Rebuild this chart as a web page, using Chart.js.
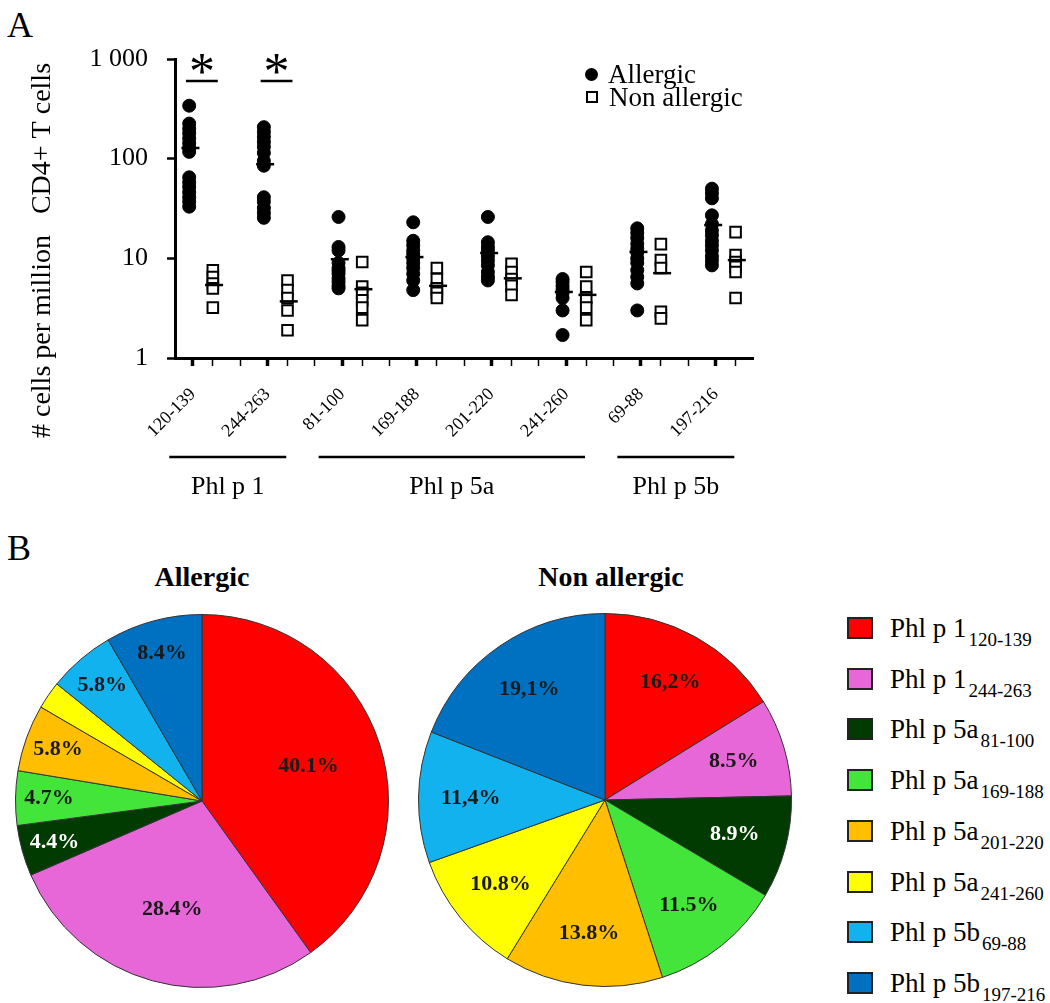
<!DOCTYPE html>
<html>
<head>
<meta charset="utf-8">
<script src="https://cdn.jsdelivr.net/npm/chart.js@4.4.1/dist/chart.umd.min.js"></script>
<style>
  html, body { margin: 0; padding: 0; background: #fff; }
  body { position: relative; width: 1050px; height: 1003px; overflow: hidden;
         font-family: 'Liberation Serif', 'DejaVu Serif', serif; color: #000; }
  .box { position: absolute; }
  .panel { position: absolute; left: 7px; font-size: 36px; line-height: 36px; }
  .pieTitle { position: absolute; width: 300px; text-align: center; font-weight: bold;
              font-size: 28px; line-height: 28px; }
  .row { position: absolute; display: flex; align-items: center; height: 24px;
         font-size: 27px; line-height: 24px; white-space: nowrap; }
  .dot { width: 13px; height: 13px; border-radius: 50%; background: #000; margin-right: 10px; }
  .sq { width: 12px; height: 12px; box-sizing: border-box; border: 2px solid #000; background: #fff; margin-right: 11px; margin-left: 1px; }
  .swatch { width: 26px; height: 22px; box-sizing: border-box; border: 2px solid #222; margin-right: 17px; }
  .row sub { font-size: 19px; line-height: 0; vertical-align: -9px; margin-left: 2px; }
</style>
</head>
<body>
<div class="panel" style="top:7px">A</div>
<div class="panel" style="top:530px">B</div>

<div class="box" style="left:0;top:0;width:780px;height:520px"><canvas id="cells" width="780" height="520"></canvas></div>

<div class="row" style="left:585px;top:62px"><span class="dot"></span><span>Allergic</span></div>
<div class="row" style="left:585px;top:85px"><span class="sq"></span><span>Non allergic</span></div>

<div class="pieTitle" style="left:52px;top:563px">Allergic</div>
<div class="pieTitle" style="left:461px;top:563px">Non allergic</div>

<div class="box" style="left:15px;top:614px;width:374px;height:374px"><canvas id="pieA" width="374" height="374"></canvas></div>
<div class="box" style="left:418px;top:613px;width:374px;height:374px"><canvas id="pieN" width="374" height="374"></canvas></div>

<div id="legendB"></div>

<script>
// Panel A: peptides and groups
const peptides = ['120-139', '244-263', '81-100', '169-188', '201-220', '241-260', '69-88', '197-216'];
const allergens = ['Phl p 1', 'Phl p 1', 'Phl p 5a', 'Phl p 5a', 'Phl p 5a', 'Phl p 5a', 'Phl p 5b', 'Phl p 5b'];
const groupNames = ['Phl p 1', 'Phl p 5a', 'Phl p 5b'];
const groupFirst = [0, 2, 6];
const groupLast = [1, 5, 7];
const significant = [0, 1];
const yTicks = [1, 10, 100, 1000];

// # cells per million CD4+ T cells, one list per peptide
const allergicCells = [
  [340, 225, 200, 180, 160, 143, 128, 117, 65, 58, 52, 46, 41, 37, 33],
  [207, 185, 165, 147, 131, 114, 95, 85, 41, 37, 32, 28.5, 25.5],
  [26, 13, 12, 9, 8, 7.5, 7, 6.3, 5.8, 5.3, 5.0],
  [23, 15, 13.5, 12, 11, 10, 9, 8, 7, 6, 4.8],
  [26, 14.5, 13, 12, 10.5, 9.5, 8.5, 7.3, 6.5, 6.0],
  [6.2, 5.8, 5.3, 4.9, 4.5, 4.0, 3.0, 1.7],
  [20, 18, 16, 14, 12.5, 11.5, 10, 9, 7.6, 6.5, 5.6, 3.0],
  [50, 45, 40, 27, 22, 19, 17, 15, 13.5, 12, 10.5, 9.5, 8.5]
];
const nonAllergicCells = [
  [7.6, 6.5, 5.6, 5.0, 3.2],
  [6.0, 4.8, 4.0, 3.0, 1.9],
  [9.2, 5.2, 4.5, 3.8, 3.2, 2.4],
  [8.0, 6.2, 5.0, 4.5, 4.0],
  [8.8, 7.3, 6.2, 5.3, 4.3],
  [7.3, 5.2, 4.0, 3.2, 2.4],
  [13.9, 9.6, 8.0, 2.9, 2.5],
  [18.3, 10.8, 9.2, 8.2, 7.3, 4.0]
];
const allergicMean = [128, 88, 9.8, 10.3, 11.3, 4.6, 11.6, 21.6];
const nonAllergicMean = [5.4, 3.7, 4.9, 5.3, 6.3, 4.3, 7.1, 9.6];
const sigLevel = 600;

// Panel B
const sliceColors = ['#ff0000', '#e767d9', '#023b02', '#44e53a', '#ffbf00', '#ffff00', '#12b2ef', '#0070c0'];
const allergicShare = [40.1, 28.4, 4.4, 4.7, 5.8, 2.4, 5.8, 8.4];
const allergicText = ['40.1%', '28.4%', '4.4%', '4.7%', '5.8%', '', '5.8%', '8.4%'];
const nonAllergicShare = [16.2, 8.5, 8.9, 11.5, 13.8, 10.8, 11.4, 19.1];
const nonAllergicText = ['16,2%', '8.5%', '8.9%', '11.5%', '13.8%', '10.8%', '11,4%', '19,1%'];

const serif = "'Liberation Serif', 'DejaVu Serif', serif";

// x positions: 3 slots per peptide, allergic on the major tick
const slot = i => 3 * i;
const xMax = 22.5;
const tickValues = [];
peptides.forEach((p, i) => {
  [0, 0.8, 1.9].forEach(o => { if (slot(i) + o <= xMax) tickValues.push(slot(i) + o); });
});

const allergicPts = [], nonAllergicPts = [], allergicMeanPts = [], nonAllergicMeanPts = [];
peptides.forEach((p, i) => {
  allergicCells[i].forEach(v => allergicPts.push({x: slot(i) - 0.15, y: v}));
  nonAllergicCells[i].forEach(v => nonAllergicPts.push({x: slot(i) + 0.8, y: v}));
  allergicMeanPts.push({x: slot(i) - 0.1, y: allergicMean[i]});
  nonAllergicMeanPts.push({x: slot(i) + 0.85, y: nonAllergicMean[i]});
});

const panelAExtras = {
  id: 'panelAExtras',
  afterDraw(chart) {
    const {ctx, chartArea} = chart;
    const xs = chart.scales.x, ys = chart.scales.y;
    ctx.save();
    ctx.strokeStyle = '#000';
    ctx.fillStyle = '#000';
    ctx.lineWidth = 2.5;
    ctx.textAlign = 'center';

    // significance bars
    const sy = ys.getPixelForValue(sigLevel);
    ctx.font = '52px ' + serif;
    ctx.textBaseline = 'alphabetic';
    significant.forEach(i => {
      ctx.beginPath();
      ctx.moveTo(xs.getPixelForValue(slot(i) - 0.28), sy);
      ctx.lineTo(xs.getPixelForValue(slot(i) + 1.0), sy);
      ctx.stroke();
      ctx.fillText('*', xs.getPixelForValue(slot(i) + 0.36), sy + 8);
    });

    // allergen groups under the axis
    const gy = chartArea.bottom + 99;
    ctx.font = '26px ' + serif;
    groupNames.forEach((g, k) => {
      const x1 = xs.getPixelForValue(slot(groupFirst[k]) - 0.95);
      const x2 = xs.getPixelForValue(slot(groupLast[k]) + 0.75);
      ctx.beginPath();
      ctx.moveTo(x1, gy);
      ctx.lineTo(x2, gy);
      ctx.stroke();
      ctx.fillText(g, (x1 + x2) / 2, gy + 37);
    });

    // y title (extends below the plot in the original)
    ctx.translate(43, (chartArea.top + chartArea.bottom) / 2 + 42);
    ctx.rotate(-Math.PI / 2);
    ctx.font = '28px ' + serif;
    ctx.textBaseline = 'middle';
    ctx.fillText('# cells per million   CD4+ T cells', 0, 0);
    ctx.restore();
  }
};

new Chart(document.getElementById('cells'), {
  type: 'scatter',
  data: {
    datasets: [
      {label: 'Allergic mean', data: allergicMeanPts, pointStyle: 'line', pointRadius: 9,
       borderColor: '#000', pointBorderWidth: 2.5},
      {label: 'Non allergic mean', data: nonAllergicMeanPts, pointStyle: 'line', pointRadius: 9,
       borderColor: '#000', pointBorderWidth: 2.5},
      {label: 'Allergic', data: allergicPts, pointStyle: 'circle', pointRadius: 6.5,
       backgroundColor: '#000', borderColor: '#000', pointBorderWidth: 1},
      {label: 'Non allergic', data: nonAllergicPts, pointStyle: 'rect', pointRadius: 7.5,
       backgroundColor: '#fff', borderColor: '#000', pointBorderWidth: 2}
    ]
  },
  options: {
    responsive: false,
    animation: false,
    layout: {padding: {left: 0, top: 59, right: 27, bottom: 0}},
    plugins: {legend: {display: false}, tooltip: {enabled: false}},
    scales: {
      x: {
        type: 'linear',
        min: -0.72,
        max: xMax,
        afterBuildTicks: s => { s.ticks = tickValues.map(v => ({value: v})); },
        afterFit: s => { s.height = 162; },
        border: {color: '#000', width: 3},
        grid: {
          drawOnChartArea: false,
          tickLength: 8,
          tickColor: '#000',
          tickWidth: c => (c.tick && c.tick.value % 3 === 0 ? 3.5 : 1.5)
        },
        ticks: {
          autoSkip: false,
          minRotation: 45,
          maxRotation: 45,
          padding: 18,
          color: '#000',
          font: {family: serif, size: 18},
          callback: v => (v % 3 === 0 ? peptides[v / 3] : '')
        }
      },
      y: {
        type: 'logarithmic',
        min: 1,
        max: 1000,
        afterBuildTicks: s => { s.ticks = yTicks.map(v => ({value: v})); },
        afterFit: s => { s.width = 175; },
        border: {color: '#000', width: 3},
        grid: {drawOnChartArea: false, tickLength: 8, tickColor: '#000', tickWidth: 2.5},
        ticks: {
          padding: 19,
          color: '#000',
          font: {family: serif, size: 26},
          callback: v => (v === 1000 ? '1 000' : String(v))
        }
      }
    }
  },
  plugins: [panelAExtras]
});

function sliceText(texts, fracFor) {
  return {
    id: 'sliceText',
    afterDatasetsDraw(chart) {
      const ctx = chart.ctx;
      const values = chart.data.datasets[0].data;
      ctx.save();
      ctx.font = 'bold 22px ' + serif;
      ctx.textAlign = 'center';
      ctx.textBaseline = 'middle';
      chart.getDatasetMeta(0).data.forEach((arc, i) => {
        if (!texts[i]) return;
        const p = arc.getProps(['x', 'y', 'startAngle', 'endAngle', 'outerRadius']);
        const a = (p.startAngle + p.endAngle) / 2;
        const r = p.outerRadius * fracFor(values[i]);
        ctx.fillStyle = i === 2 ? '#ffffff' : '#1a1a1a';
        ctx.fillText(texts[i], p.x + Math.cos(a) * r, p.y + Math.sin(a) * r);
      });
      ctx.restore();
    }
  };
}

function makePie(id, shares, texts, fracFor) {
  new Chart(document.getElementById(id), {
    type: 'pie',
    data: {
      labels: peptides.map((p, i) => allergens[i] + ' ' + p),
      datasets: [{data: shares, backgroundColor: sliceColors, borderColor: '#333', borderWidth: 1}]
    },
    options: {
      responsive: false,
      animation: false,
      plugins: {legend: {display: false}, tooltip: {enabled: false}}
    },
    plugins: [sliceText(texts, fracFor)]
  });
}

makePie('pieA', allergicShare, allergicText, v => (v > 20 ? 0.6 : 0.82));
makePie('pieN', nonAllergicShare, nonAllergicText, v => 0.72);

// legend for panel B
const legendB = document.getElementById('legendB');
peptides.forEach((p, i) => {
  const row = document.createElement('div');
  row.className = 'row';
  row.style.left = '847px';
  row.style.top = (616 + i * 50.7) + 'px';
  const sw = document.createElement('span');
  sw.className = 'swatch';
  sw.style.background = sliceColors[i];
  const label = document.createElement('span');
  label.textContent = allergens[i];
  const sub = document.createElement('sub');
  sub.textContent = p;
  label.appendChild(sub);
  row.appendChild(sw);
  row.appendChild(label);
  legendB.appendChild(row);
});
</script>
</body>
</html>
